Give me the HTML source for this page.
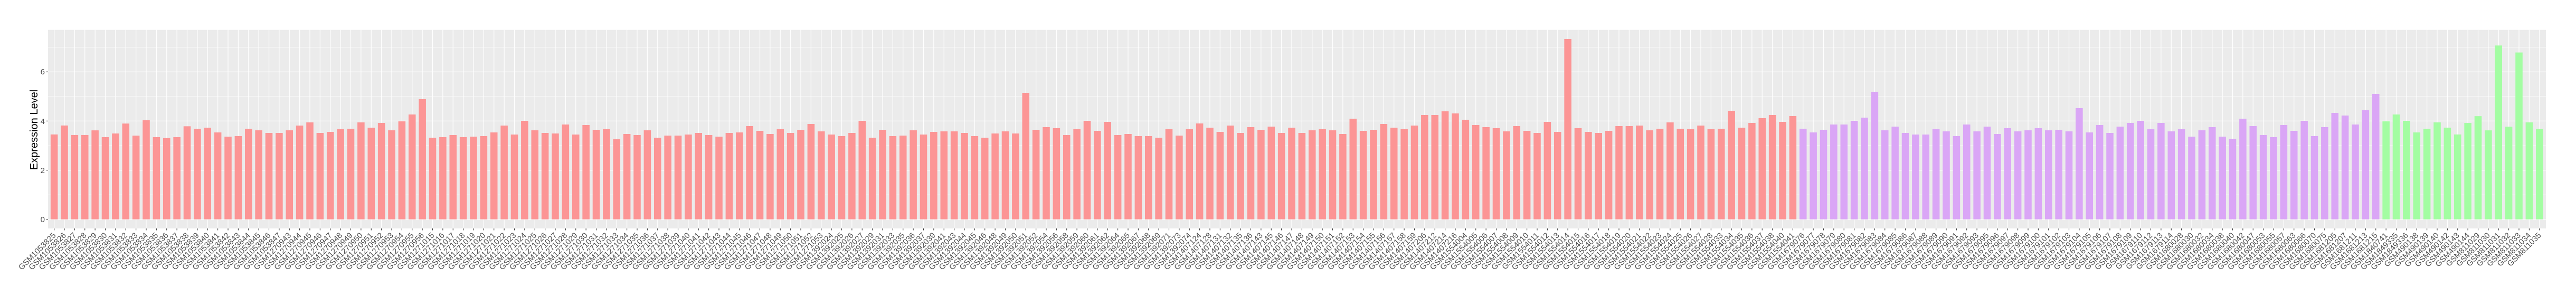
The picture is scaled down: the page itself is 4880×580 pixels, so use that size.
<!DOCTYPE html>
<html><head><meta charset="utf-8"><style>
html,body{margin:0;padding:0;background:#fff;}
svg{display:block;font-family:"Liberation Sans",Arial,sans-serif;}
</style></head><body>
<svg id="c" width="4880" height="580" xmlns="http://www.w3.org/2000/svg">
<rect x="0" y="0" width="4880" height="580" fill="#fff"/>
<rect x="91" y="56.7" width="4732" height="376.3" fill="#EBEBEB"/>
<g id="grid"></g>
<g id="bars"></g>
<g id="yax" font-size="15" fill="#4D4D4D" text-anchor="end">
<text x="85" y="421">0</text>
<text x="85" y="328">2</text>
<text x="85" y="235">4</text>
<text x="85" y="141">6</text>
</g>
<text x="0" y="0" font-size="20" text-anchor="middle" transform="translate(71,246) rotate(-90)">Expression Level</text>
<g id="xl" font-size="15" fill="#4D4D4D" text-anchor="end">
<text>GSM1053825</text><text>GSM1053826</text><text>GSM1053827</text><text>GSM1053828</text><text>GSM1053829</text><text>GSM1053830</text><text>GSM1053831</text><text>GSM1053832</text><text>GSM1053833</text><text>GSM1053834</text><text>GSM1053835</text><text>GSM1053836</text><text>GSM1053837</text><text>GSM1053838</text><text>GSM1053839</text><text>GSM1053840</text><text>GSM1053841</text><text>GSM1053842</text><text>GSM1053843</text><text>GSM1053844</text><text>GSM1053845</text><text>GSM1053846</text><text>GSM1053847</text>
<text>GSM1270943</text><text>GSM1270944</text><text>GSM1270945</text><text>GSM1270946</text><text>GSM1270947</text><text>GSM1270948</text><text>GSM1270949</text><text>GSM1270950</text><text>GSM1270951</text><text>GSM1270952</text><text>GSM1270953</text><text>GSM1270954</text><text>GSM1270955</text><text>GSM1270956</text>
<text>GSM1271015</text><text>GSM1271016</text><text>GSM1271017</text><text>GSM1271018</text><text>GSM1271019</text><text>GSM1271020</text><text>GSM1271021</text><text>GSM1271022</text><text>GSM1271023</text><text>GSM1271024</text><text>GSM1271025</text><text>GSM1271026</text><text>GSM1271027</text><text>GSM1271028</text><text>GSM1271029</text><text>GSM1271030</text><text>GSM1271031</text><text>GSM1271032</text><text>GSM1271033</text><text>GSM1271034</text><text>GSM1271035</text><text>GSM1271036</text><text>GSM1271037</text><text>GSM1271038</text><text>GSM1271039</text><text>GSM1271040</text><text>GSM1271041</text><text>GSM1271042</text><text>GSM1271043</text><text>GSM1271044</text><text>GSM1271045</text><text>GSM1271046</text><text>GSM1271047</text><text>GSM1271048</text><text>GSM1271049</text><text>GSM1271050</text><text>GSM1271051</text><text>GSM1271052</text><text>GSM1271053</text>
<text>GSM1392024</text><text>GSM1392025</text><text>GSM1392026</text><text>GSM1392027</text><text>GSM1392029</text><text>GSM1392031</text><text>GSM1392033</text><text>GSM1392035</text><text>GSM1392036</text><text>GSM1392037</text><text>GSM1392039</text><text>GSM1392041</text><text>GSM1392043</text><text>GSM1392044</text><text>GSM1392045</text><text>GSM1392046</text><text>GSM1392048</text><text>GSM1392049</text><text>GSM1392050</text><text>GSM1392051</text><text>GSM1392052</text><text>GSM1392054</text><text>GSM1392056</text><text>GSM1392058</text><text>GSM1392059</text><text>GSM1392060</text><text>GSM1392061</text><text>GSM1392062</text><text>GSM1392064</text><text>GSM1392065</text><text>GSM1392067</text><text>GSM1392068</text><text>GSM1392069</text><text>GSM1392071</text><text>GSM1392073</text><text>GSM1392074</text>
<text>GSM1407124</text><text>GSM1407128</text><text>GSM1407131</text><text>GSM1407132</text><text>GSM1407135</text><text>GSM1407136</text><text>GSM1407143</text><text>GSM1407145</text><text>GSM1407146</text><text>GSM1407147</text><text>GSM1407148</text><text>GSM1407149</text><text>GSM1407150</text><text>GSM1407151</text><text>GSM1407152</text><text>GSM1407153</text><text>GSM1407154</text><text>GSM1407155</text><text>GSM1407156</text><text>GSM1407157</text><text>GSM1407158</text><text>GSM1407159</text><text>GSM1407206</text><text>GSM1407212</text>
<text>GSM1407214</text><text>GSM1407216</text>
<text>GSM1554004</text><text>GSM1554005</text><text>GSM1554006</text><text>GSM1554007</text><text>GSM1554008</text><text>GSM1554009</text><text>GSM1554010</text><text>GSM1554011</text><text>GSM1554012</text><text>GSM1554013</text><text>GSM1554014</text><text>GSM1554015</text><text>GSM1554016</text><text>GSM1554017</text><text>GSM1554018</text><text>GSM1554019</text><text>GSM1554020</text><text>GSM1554021</text><text>GSM1554022</text><text>GSM1554023</text><text>GSM1554024</text><text>GSM1554025</text><text>GSM1554026</text>
<text>GSM1554027</text><text>GSM1554028</text><text>GSM1554033</text><text>GSM1554034</text><text>GSM1554035</text><text>GSM1554036</text><text>GSM1554037</text><text>GSM1554038</text><text>GSM1554040</text><text>GSM1554041</text>
<text>GSM1679076</text><text>GSM1679077</text><text>GSM1679078</text><text>GSM1679079</text><text>GSM1679080</text><text>GSM1679081</text><text>GSM1679082</text><text>GSM1679083</text><text>GSM1679084</text><text>GSM1679085</text><text>GSM1679086</text><text>GSM1679087</text><text>GSM1679088</text><text>GSM1679089</text><text>GSM1679090</text><text>GSM1679091</text><text>GSM1679092</text><text>GSM1679093</text><text>GSM1679095</text><text>GSM1679096</text><text>GSM1679097</text><text>GSM1679098</text><text>GSM1679099</text><text>GSM1679100</text><text>GSM1679101</text><text>GSM1679102</text><text>GSM1679103</text><text>GSM1679104</text><text>GSM1679105</text><text>GSM1679106</text><text>GSM1679107</text><text>GSM1679108</text><text>GSM1679109</text><text>GSM1679110</text><text>GSM1679112</text><text>GSM1679113</text><text>GSM1679114</text>
<text>GSM1680028</text><text>GSM1680030</text><text>GSM1680032</text><text>GSM1680034</text><text>GSM1680038</text><text>GSM1680040</text><text>GSM1680042</text><text>GSM1680047</text><text>GSM1680053</text><text>GSM1680055</text><text>GSM1680057</text><text>GSM1680063</text><text>GSM1680066</text><text>GSM1680070</text><text>GSM1680075</text><text>GSM1681205</text><text>GSM1681207</text><text>GSM1681211</text><text>GSM1681213</text><text>GSM1681215</text>
<text>GSM1840741</text><text>GSM1849335</text><text>GSM1849336</text><text>GSM490138</text><text>GSM490139</text><text>GSM490140</text><text>GSM490142</text><text>GSM490143</text><text>GSM490144</text><text>GSM811029</text><text>GSM811030</text><text>GSM811031</text><text>GSM811032</text><text>GSM811033</text><text>GSM811034</text><text>GSM811035</text>
</g>
</svg>
<script>
(function(){
var NS="http://www.w3.org/2000/svg";
function el(n,a,p){var e=document.createElementNS(NS,n);for(var k in a)e.setAttribute(k,a[k]);p.appendChild(e);return e;}
var z1=[689,643,692,692,668,703,684,633,695,616,703,708,703,647,660];
var m=[606,633,657,654,612,621,636,636,621,594,576,636,630,615,612,576,606,579,621,570,531,444,663,660,648,
660,657,654,633,594,645,567,621,636,639,588,645,591,618,615,672,642,648,621,663,651,651,645,636,
648,657,636,633,597,624,642,615,636,618,585,627,645,654,636,567,663,618,654,651,621,645,630,627,
627,636,654,663,639,627,639,408,618,603,609,648,615,567,624,573,648,642,654,654,663,615,651,615,
582,606,630,594,636,603,618,600,636,606,636,621,615,621,642,555,624,618,585,606,615,594,534,534,
513,525,561,591,603,609,627,597,624,636,573,630,102,609,630,636,624,597,597,594,621,612,576,612,
615,594,615,612,510,606,579,552,534,573,540,612,633,618,588,588,567,549,402,621,600,636,645,645,615,
627,654,588,627,600,642,609,627,621,609,621,618,627,495,633,591,636,600,579,567,615,579,627,615,
657,621,603,657,669,555,597,648,660,591,624,567,654,603,522,537,588,507,414,570,531,567,633,612];
var z2=[627,654,689,630,595,668,232,649,268,627,660];
var v=[];
z1.forEach(function(t){v.push((1125-t)/126.25);});
m.forEach(function(t){v.push((1127-t)/139.7);});
z2.forEach(function(t){v.push((1125-t)/126.25);});
var y0=415.7,s=46.58,L=91,R=4823,T=56.7,B=433,dx=19.375,x0=L+0.6*dx;
var g=document.getElementById('grid'),b=document.getElementById('bars');
[1,3,5,7].forEach(function(k){var y=y0-k*s;el('line',{x1:L,x2:R,y1:y,y2:y,stroke:'#fff','stroke-width':0.6},g);});
[0,2,4,6].forEach(function(k){var y=y0-k*s;el('line',{x1:L,x2:R,y1:y,y2:y,stroke:'#fff','stroke-width':1.2},g);
el('line',{x1:87.5,x2:91,y1:y,y2:y,stroke:'#333','stroke-width':1.1},document.getElementById('c'));});
var lab=document.getElementById('xl').getElementsByTagName('text');
var svg=document.getElementById('c');
for(var i=0;i<v.length;i++){
 var cx=x0+i*dx;
 el('line',{x1:cx,x2:cx,y1:T,y2:B,stroke:'#fff','stroke-width':1.2},g);
 var col=i<171?'#FC9595':(i<228?'#DAA6F6':'#A3FDA2');
 var h=v[i]*s;
 el('rect',{x:cx-6.78,y:y0-h,width:13.56,height:h,fill:col},b);
 el('line',{x1:cx,x2:cx,y1:B,y2:B+3.5,stroke:'#333','stroke-width':1.1},svg);
 if(lab[i]) lab[i].setAttribute('transform','translate('+(cx+4)+',447) rotate(-45)');
}
})();
</script>
</body></html>
